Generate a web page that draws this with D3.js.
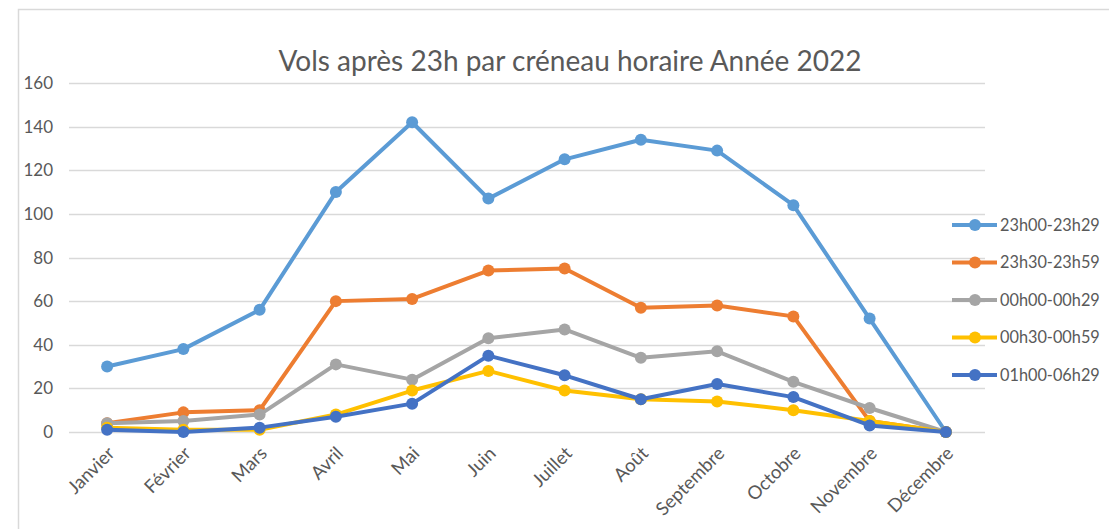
<!DOCTYPE html>
<html><head><meta charset="utf-8">
<script src="https://cdn.jsdelivr.net/npm/d3@7"></script>
<style>body{margin:0;background:#fff;} svg{display:block;}</style>
</head><body>
<svg id="chart" width="1109" height="529"></svg>
<script>
const months = ["Janvier","Février","Mars","Avril","Mai","Juin","Juillet","Août","Septembre","Octobre","Novembre","Décembre"];
const seriesNames = ["23h00-23h29","23h30-23h59","00h00-00h29","00h30-00h59","01h00-06h29"];
const s2300 = [30,38,56,110,142,107,125,134,129,104,52,0];
const s2330 = [4,9,10,60,61,74,75,57,58,53,5,0];
const s0000 = [4,5,8,31,24,43,47,34,37,23,11,0];
const s0030 = [2,1,1,8,19,28,19,15,14,10,5,0];
const s0100 = [1,0,2,7,13,35,26,15,22,16,3,0];
const yTicks = [0,20,40,60,80,100,120,140,160];
const colors = ["#5B9BD5","#ED7D31","#A5A5A5","#FFC000","#4472C4"];
const title = "Vols après 23h par créneau horaire Année 2022";

const series = [s2300,s2330,s0000,s0030,s0100].map((v,i)=>({name:seriesNames[i], values:v, color:colors[i]}));

const svg = d3.select("#chart");
const font = "Lato, 'Open Sans', sans-serif";

// frame
svg.append("path").attr("d","M18.5,529 V9.5 H1109").attr("fill","none").attr("stroke","#d9d9d9").attr("stroke-width",1.5);

const x = d3.scaleBand().domain(months).range([69,984]);
const y = d3.scaleLinear().domain([0,160]).range([432,83]);

// gridlines
svg.append("g").selectAll("line").data(yTicks).join("line")
  .attr("x1",69).attr("x2",985)
  .attr("y1",d=>Math.round(y(d))+0.5).attr("y2",d=>Math.round(y(d))+0.5)
  .attr("stroke","#d9d9d9").attr("stroke-width",1.3);

// y labels
svg.append("g").selectAll("text").data(yTicks).join("text")
  .attr("x",53).attr("y",d=>y(d)).attr("dy","0.36em")
  .attr("text-anchor","end").attr("font-family",font).attr("font-size",17).attr("fill","#595959")
  .text(d=>d);

// x labels
svg.append("g").selectAll("text").data(months).join("text")
  .attr("transform",d=>`translate(${x(d)+x.bandwidth()/2+4},450) rotate(-45)`)
  .attr("text-anchor","end").attr("dy","0.35em")
  .attr("font-family",font).attr("font-size",18.5).attr("fill","#595959")
  .text(d=>d);

// title
svg.append("text").attr("x",570).attr("y",71).attr("text-anchor","middle")
  .attr("font-family",font).attr("font-size",28).attr("fill","#595959").text(title);

const line = d3.line().x((d,i)=>x(months[i])+x.bandwidth()/2).y(d=>y(d));

const g = svg.append("g");
series.forEach(s=>{
  g.append("path").datum(s.values).attr("d",line).attr("fill","none")
    .attr("stroke",s.color).attr("stroke-width",4).attr("stroke-linejoin","round").attr("stroke-linecap","round");
  g.append("g").selectAll("circle").data(s.values).join("circle")
    .attr("cx",(d,i)=>x(months[i])+x.bandwidth()/2).attr("cy",d=>y(d)).attr("r",6).attr("fill",s.color);
});

// legend
const leg = svg.append("g");
series.forEach((s,i)=>{
  const yy = 225 + i*37.5;
  leg.append("line").attr("x1",952).attr("x2",997).attr("y1",yy).attr("y2",yy).attr("stroke",s.color).attr("stroke-width",4);
  leg.append("circle").attr("cx",975).attr("cy",yy).attr("r",6).attr("fill",s.color);
  leg.append("text").attr("x",1000).attr("y",yy).attr("dy","0.36em")
    .attr("font-family",font).attr("font-size",16.3).attr("fill","#595959").text(s.name);
});
</script>
</body></html>
